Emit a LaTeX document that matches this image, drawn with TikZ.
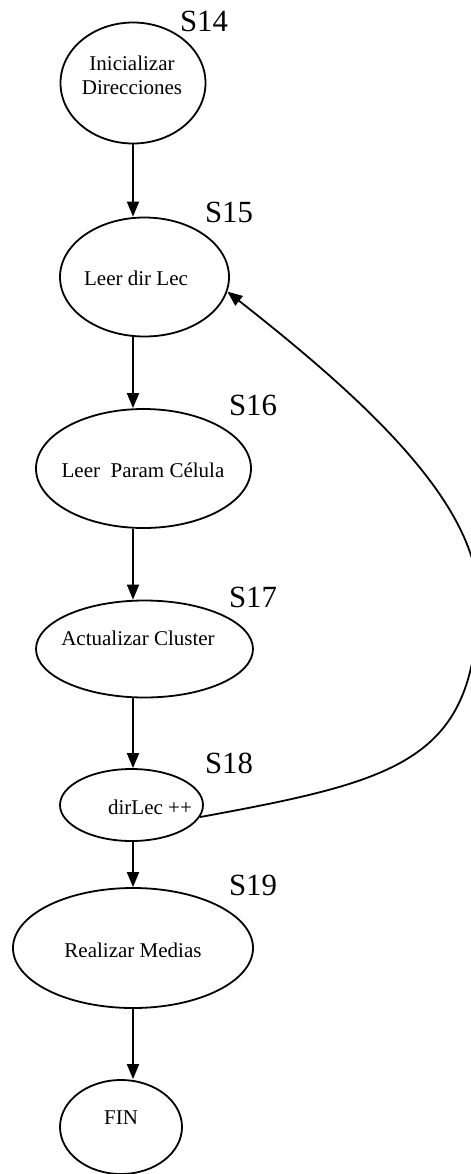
\documentclass[tikz,border=0pt]{standalone}
\usepackage{fontspec}
\setmainfont{Liberation Serif}
\usetikzlibrary{arrows.meta,shapes.geometric}
\tikzset{>={Triangle[length=7.5pt,width=6pt]},every node/.style={font=\fontsize{10.5}{12}\selectfont},
 estado/.style={ellipse,draw,line width=.9pt,inner sep=0pt},
 texto/.style={align=center,inner sep=0pt},
 etiq/.style={font=\fontsize{15.4}{16}\selectfont,inner sep=0pt},
 flecha/.style={->,line width=.9pt}}

\begin{document}
\begin{tikzpicture}[x=.5pt,y=-.5pt]
\useasboundingbox (0,0) rectangle (471,1174);
% estados
\foreach \n/\x/\y/\w/\h in {s14/133/83/72.5/60.5,s15/144.5/277/84.5/59.5,
 s16/143.5/468.5/107.5/59.5,s17/144.5/649/108.5/48.5,s18/131.5/805/71.5/36,
 s19/133/948/120/60,fin/121/1127/61/47}
 {\node[estado,minimum width=\w pt,minimum height=\h pt] (\n) at (\x,\y) {};}
\foreach \n/\x/\y/\txt in {t14/132/75/{Inicializar\\Direcciones},t15/136/278/{Leer dir Lec},
 t16/143/470/{Leer\ \ Param Célula},t17/138/638/{Actualizar Cluster},t18/150/807/{dirLec ++},
 t19/133/950/{Realizar Medias},tfin/121/1118/{FIN}}
 {\node[texto] (\n) at (\x,\y) {\txt};}
\foreach \n/\x/\y in {14/204/21,15/229/212,16/253/405,17/253/597,18/229/763,19/253/885}
 {\node[etiq] (e\n) at (\x,\y) {S\n};}
% transiciones
\foreach \a/\b in {s14/s15,s15/s16,s16/s17,s17/s18,s18/s19,s19/fin}
 {\draw[flecha] (\a.south -| s14) -- (\b.north -| s14);}
\coordinate (giro) at (478,597);
\draw[flecha] (s18.-10) .. controls (402,780) and (477,760) .. (giro)
 .. controls (478,500) and (355,392) .. (s15.-10);
\end{tikzpicture}
\end{document}
